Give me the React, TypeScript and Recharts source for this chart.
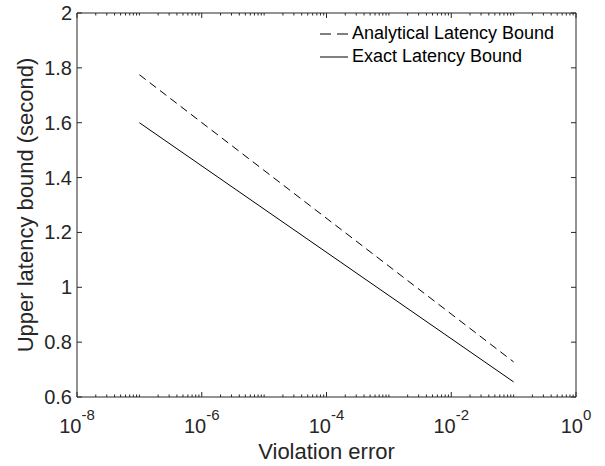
import React from 'react';
import { LineChart, Line, XAxis, YAxis, Legend } from 'recharts';

// violation error (x) and the two latency bounds
const errors = [1e-7, 1e-1];
const analyticalBound = [1.775, 0.728];
const exactBound = [1.6, 0.655];

const decades = [-8, -7, -6, -5, -4, -3, -2, -1];
const minorSteps = [1, 2, 3, 4, 5, 6, 7, 8, 9];
const labelledExponents = [-8, -6, -4, -2, 0];
const yTicks = [0.6, 0.8, 1, 1.2, 1.4, 1.6, 1.8, 2];

const xTicks: number[] = [];
decades.forEach((d) => minorSteps.forEach((m) => xTicks.push(Number((m * Math.pow(10, d)).toPrecision(3)))));
xTicks.push(1);

const data = errors.map((e, i) => ({ err: e, analytical: analyticalBound[i], exact: exactBound[i] }));

const FONT = '"Liberation Sans", Arial, Helvetica, sans-serif';
const AXIS = '#262626';

const exponentOf = (v: number) => {
  const e = Math.round(Math.log10(v));
  return Math.abs(v - Math.pow(10, e)) < Math.pow(10, e) * 1e-6 ? e : null;
};

const BottomTick = (props: any) => {
  const { x, y, payload } = props;
  const e = exponentOf(payload.value);
  const major = e !== null && labelledExponents.includes(e);
  return (
    <g>
      <line x1={x} x2={x} y1={y} y2={y - (major ? 5 : 2.5)} stroke={AXIS} />
      {major && (
        <text x={x} y={y + 36} textAnchor="middle" fontFamily={FONT} fontSize={20} fill={AXIS}>
          <tspan>10</tspan>
          <tspan dy={-12.6} fontSize={15}>{String(e)}</tspan>
        </text>
      )}
    </g>
  );
};

const TopTick = (props: any) => {
  const { x, y, payload } = props;
  const e = exponentOf(payload.value);
  const major = e !== null && labelledExponents.includes(e);
  return <line x1={x} x2={x} y1={y} y2={y + (major ? 5 : 2.5)} stroke={AXIS} />;
};

const LeftTick = (props: any) => {
  const { x, y, payload } = props;
  return (
    <g>
      <line x1={x} x2={x + 5} y1={y} y2={y} stroke={AXIS} />
      <text x={x - 5} y={y + 7} textAnchor="end" fontFamily={FONT} fontSize={20} fill={AXIS}>
        {String(payload.value)}
      </text>
    </g>
  );
};

const RightTick = (props: any) => {
  const { x, y } = props;
  return <line x1={x} x2={x - 5} y1={y} y2={y} stroke={AXIS} />;
};

const YLabel = (props: any) => {
  const { viewBox } = props;
  const cy = viewBox.y + viewBox.height / 2;
  const cx = 33;
  return (
    <text x={cx} y={cy} textAnchor="middle" transform={`rotate(-90, ${cx}, ${cy})`} fontFamily={FONT} fontSize={22} fill={AXIS}>
      Upper latency bound (second)
    </text>
  );
};

const LegendBox = () => (
  <div style={{ fontFamily: FONT, fontSize: 18, color: '#000' }}>
    <div style={{ display: 'flex', alignItems: 'center', height: 23 }}>
      <svg width={32} height={10}>
        <line x1={2} x2={30} y1={5} y2={5} stroke="#000" strokeDasharray="11 6" />
      </svg>
      <span style={{ marginLeft: 2 }}>Analytical Latency Bound</span>
    </div>
    <div style={{ display: 'flex', alignItems: 'center', height: 23 }}>
      <svg width={32} height={10}>
        <line x1={2} x2={30} y1={5} y2={5} stroke="#000" />
      </svg>
      <span style={{ marginLeft: 2 }}>Exact Latency Bound</span>
    </div>
  </div>
);

export default function App() {
  return (
    <div style={{ position: 'absolute', left: 0, top: 0, background: '#fff' }}>
      <LineChart width={605} height={466} data={data} margin={{ top: 12, right: 28, bottom: 68, left: 76 }}>
        <XAxis
          dataKey="err"
          type="number"
          scale="log"
          domain={[1e-8, 1]}
          allowDataOverflow
          ticks={xTicks}
          interval={0}
          height={1}
          tickSize={0}
          tickMargin={0}
          tickLine={false}
          tick={<BottomTick />}
          stroke={AXIS}
          label={{ value: 'Violation error', position: 'bottom', offset: 45, fontFamily: FONT, fontSize: 22, fill: AXIS }}
        />
        <XAxis
          xAxisId="top"
          dataKey="err"
          orientation="top"
          type="number"
          scale="log"
          domain={[1e-8, 1]}
          allowDataOverflow
          ticks={xTicks}
          interval={0}
          height={1}
          tickSize={0}
          tickMargin={0}
          tickLine={false}
          tick={<TopTick />}
          stroke={AXIS}
        />
        <YAxis
          yAxisId="left"
          type="number"
          domain={[0.6, 2]}
          allowDataOverflow
          ticks={yTicks}
          interval={0}
          width={1}
          tickSize={0}
          tickMargin={0}
          tickLine={false}
          tick={<LeftTick />}
          stroke={AXIS}
          label={{ content: <YLabel /> }}
        />
        <YAxis
          yAxisId="right"
          orientation="right"
          type="number"
          domain={[0.6, 2]}
          allowDataOverflow
          ticks={yTicks}
          interval={0}
          width={1}
          tickSize={0}
          tickMargin={0}
          tickLine={false}
          tick={<RightTick />}
          stroke={AXIS}
        />
        <Legend
          layout="vertical"
          align="center"
          verticalAlign="middle"
          content={<LegendBox />}
          wrapperStyle={{ position: 'absolute', left: 318, top: 22, width: 260 }}
        />
        <Line
          yAxisId="left"
          dataKey="analytical"
          stroke="#000"
          strokeWidth={1}
          strokeDasharray="8 5"
          dot={false}
          isAnimationActive={false}
        />
        <Line yAxisId="left" dataKey="exact" stroke="#000" strokeWidth={1} dot={false} isAnimationActive={false} />
      </LineChart>
    </div>
  );
}
